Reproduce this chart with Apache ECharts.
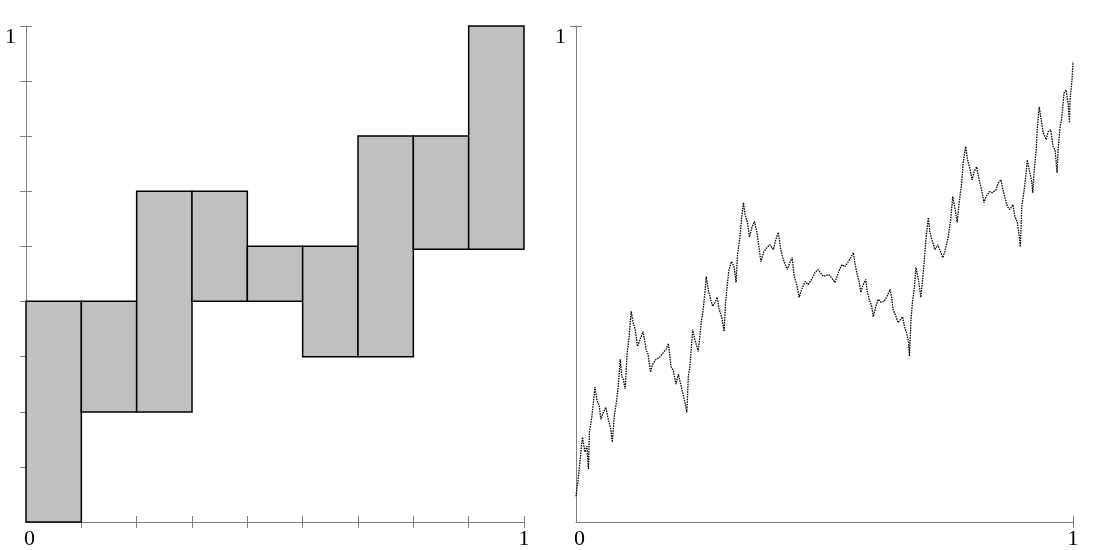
<!DOCTYPE html>
<html>
<head>
<meta charset="utf-8">
<script src="https://cdn.jsdelivr.net/npm/echarts@6/dist/echarts.min.js"></script>
<style>
  html, body { margin: 0; padding: 0; background: #fff; }
  #chart { width: 1100px; height: 550px; }
</style>
</head>
<body>
<div id="chart"></div>
<script>
// left panel: nine boxes, each 1/9 wide
const boxLows = [0, 0.222, 0.222, 0.445, 0.445, 0.333, 0.333, 0.55, 0.55];
const boxHighs = [0.445, 0.445, 0.667, 0.667, 0.556, 0.556, 0.778, 0.778, 1];
const ninthTicks = [1 / 9, 2 / 9, 3 / 9, 4 / 9, 5 / 9, 6 / 9, 7 / 9, 8 / 9, 1];

// right panel: attractor curve
const curveX = [
  0, 0.005, 0.008, 0.011, 0.013, 0.018, 0.022, 0.025, 0.027, 0.032, 0.035, 0.038, 0.042, 0.047, 0.05,
  0.055, 0.06, 0.065, 0.07, 0.073, 0.077, 0.082, 0.085, 0.089, 0.092, 0.095, 0.099, 0.103, 0.107, 0.111,
  0.115, 0.119, 0.124, 0.129, 0.135, 0.141, 0.145, 0.15, 0.154, 0.161, 0.168, 0.176, 0.181, 0.186, 0.191,
  0.196, 0.201, 0.206, 0.213, 0.218, 0.223, 0.226, 0.229, 0.235, 0.239, 0.246, 0.252, 0.256, 0.26, 0.262,
  0.266, 0.271, 0.275, 0.28, 0.284, 0.288, 0.293, 0.298, 0.301, 0.304, 0.308, 0.313, 0.318, 0.322, 0.325,
  0.33, 0.333, 0.337, 0.34, 0.345, 0.349, 0.354, 0.359, 0.364, 0.368, 0.372, 0.378, 0.384, 0.39, 0.397,
  0.402, 0.407, 0.412, 0.416, 0.421, 0.425, 0.431, 0.435, 0.439, 0.444, 0.449, 0.454, 0.461, 0.467, 0.474,
  0.481, 0.487, 0.491, 0.498, 0.508, 0.514, 0.521, 0.528, 0.535, 0.541, 0.548, 0.553, 0.558, 0.561, 0.565,
  0.57, 0.573, 0.578, 0.583, 0.586, 0.59, 0.595, 0.598, 0.603, 0.608, 0.614, 0.62, 0.626, 0.632, 0.635,
  0.638, 0.644, 0.648, 0.653, 0.657, 0.661, 0.665, 0.669, 0.671, 0.674, 0.677, 0.681, 0.684, 0.689, 0.694,
  0.698, 0.701, 0.704, 0.709, 0.712, 0.718, 0.722, 0.728, 0.732, 0.738, 0.742, 0.749, 0.754, 0.758, 0.763,
  0.767, 0.771, 0.776, 0.779, 0.784, 0.788, 0.793, 0.797, 0.801, 0.806, 0.811, 0.816, 0.821, 0.825, 0.832,
  0.838, 0.845, 0.85, 0.855, 0.859, 0.863, 0.868, 0.873, 0.879, 0.883, 0.888, 0.892, 0.894, 0.897, 0.901,
  0.905, 0.908, 0.912, 0.917, 0.919, 0.922, 0.926, 0.928, 0.932, 0.936, 0.94, 0.946, 0.95, 0.955, 0.96,
  0.964, 0.968, 0.97, 0.974, 0.977, 0.982, 0.986, 0.99, 0.993, 0.994, 0.998, 1
];
const curveY = [
  0.052, 0.093, 0.121, 0.153, 0.171, 0.141, 0.153, 0.107, 0.181, 0.213, 0.241, 0.272, 0.247, 0.233, 0.207,
  0.221, 0.231, 0.207, 0.187, 0.161, 0.213, 0.247, 0.274, 0.328, 0.294, 0.288, 0.268, 0.342, 0.374, 0.425,
  0.402, 0.388, 0.354, 0.368, 0.384, 0.348, 0.338, 0.302, 0.318, 0.328, 0.332, 0.342, 0.348, 0.36, 0.314,
  0.304, 0.278, 0.298, 0.268, 0.247, 0.221, 0.294, 0.312, 0.388, 0.368, 0.344, 0.402, 0.429, 0.469, 0.495,
  0.469, 0.449, 0.435, 0.443, 0.453, 0.429, 0.414, 0.384, 0.443, 0.475, 0.509, 0.525, 0.515, 0.483, 0.539,
  0.575, 0.61, 0.644, 0.62, 0.604, 0.575, 0.594, 0.606, 0.584, 0.555, 0.525, 0.545, 0.553, 0.559, 0.549,
  0.569, 0.584, 0.549, 0.533, 0.519, 0.509, 0.525, 0.533, 0.495, 0.479, 0.453, 0.469, 0.485, 0.479, 0.489,
  0.503, 0.509, 0.503, 0.495, 0.499, 0.493, 0.483, 0.503, 0.519, 0.515, 0.525, 0.533, 0.543, 0.523, 0.503,
  0.483, 0.463, 0.479, 0.489, 0.465, 0.449, 0.435, 0.414, 0.433, 0.449, 0.443, 0.445, 0.455, 0.469, 0.453,
  0.429, 0.414, 0.402, 0.408, 0.414, 0.394, 0.382, 0.364, 0.334, 0.408, 0.443, 0.475, 0.513, 0.489, 0.453,
  0.495, 0.529, 0.569, 0.614, 0.584, 0.563, 0.549, 0.559, 0.559, 0.533, 0.545, 0.575, 0.61, 0.656, 0.63,
  0.604, 0.644, 0.684, 0.724, 0.757, 0.73, 0.71, 0.69, 0.706, 0.716, 0.69, 0.67, 0.644, 0.656, 0.666,
  0.664, 0.67, 0.684, 0.69, 0.67, 0.654, 0.636, 0.63, 0.64, 0.616, 0.604, 0.575, 0.555, 0.636, 0.664,
  0.696, 0.73, 0.71, 0.686, 0.664, 0.71, 0.75, 0.791, 0.837, 0.811, 0.785, 0.771, 0.787, 0.791, 0.757,
  0.75, 0.704, 0.75, 0.797, 0.811, 0.865, 0.871, 0.845, 0.805, 0.851, 0.891, 0.928
];

const axisGray = "#808080";
const labelFont = { fontFamily: "Liberation Serif", fontSize: 22, color: "#000" };

function xLabelFormatter(v) {
  return v === 0 ? "{z|0}" : "1";
}

function axesFor(gridIndex, tickValues, isX) {
  const main = {
    type: "value",
    gridIndex,
    min: 0,
    max: 1,
    position: isX ? "bottom" : "left",
    axisLine: { show: true, lineStyle: { color: axisGray, width: 1 } },
    axisTick: { show: true, length: 6, customValues: tickValues, lineStyle: { color: axisGray } },
    splitLine: { show: false },
    axisLabel: isX
      ? {
          ...labelFont,
          margin: 6,
          customValues: [0, 1],
          formatter: xLabelFormatter,
          rich: { z: { ...labelFont, padding: [0, 0, 0, 7] } },
        }
      : {
          ...labelFont,
          margin: 10,
          verticalAlign: "top",
          customValues: [1],
          formatter: () => "1",
        },
  };
  // second copy only for the inner half of each tick, so ticks cross the axis
  const inner = {
    type: "value",
    gridIndex,
    min: 0,
    max: 1,
    position: isX ? "bottom" : "left",
    axisLine: { show: false },
    axisTick: { show: true, inside: true, length: 6, customValues: tickValues, lineStyle: { color: axisGray } },
    axisLabel: { show: false },
    splitLine: { show: false },
  };
  return [main, inner];
}

const chart = echarts.init(document.getElementById("chart"));

const [lx, lxIn] = axesFor(0, ninthTicks, true);
const [ly, lyIn] = axesFor(0, ninthTicks, false);
const [rx, rxIn] = axesFor(1, [1], true);
const [ry, ryIn] = axesFor(1, [1], false);

chart.setOption({
  animation: false,
  grid: [
    { left: 26, top: 26, width: 498, height: 497 },
    { left: 576, top: 26, width: 497, height: 497 },
  ],
  xAxis: [lx, lxIn, rx, rxIn],
  yAxis: [ly, lyIn, ry, ryIn],
  series: [
    {
      type: "custom",
      xAxisIndex: 0,
      yAxisIndex: 0,
      data: boxLows.map((lo, i) => [i, lo, boxHighs[i]]),
      renderItem(params, api) {
        const i = api.value(0);
        const p0 = api.coord([i / 9, api.value(2)]);
        const p1 = api.coord([(i + 1) / 9, api.value(1)]);
        return {
          type: "rect",
          shape: { x: p0[0], y: p0[1], width: p1[0] - p0[0], height: p1[1] - p0[1] },
          style: { fill: "#c0c0c0", stroke: "#000", lineWidth: 1.5 },
        };
      },
    },
    {
      type: "line",
      xAxisIndex: 2,
      yAxisIndex: 2,
      data: curveX.map((x, i) => [x, curveY[i]]),
      showSymbol: false,
      lineStyle: { color: "#000", width: 1.3, type: [1.5, 1] },
    },
  ],
});
</script>
</body>
</html>
